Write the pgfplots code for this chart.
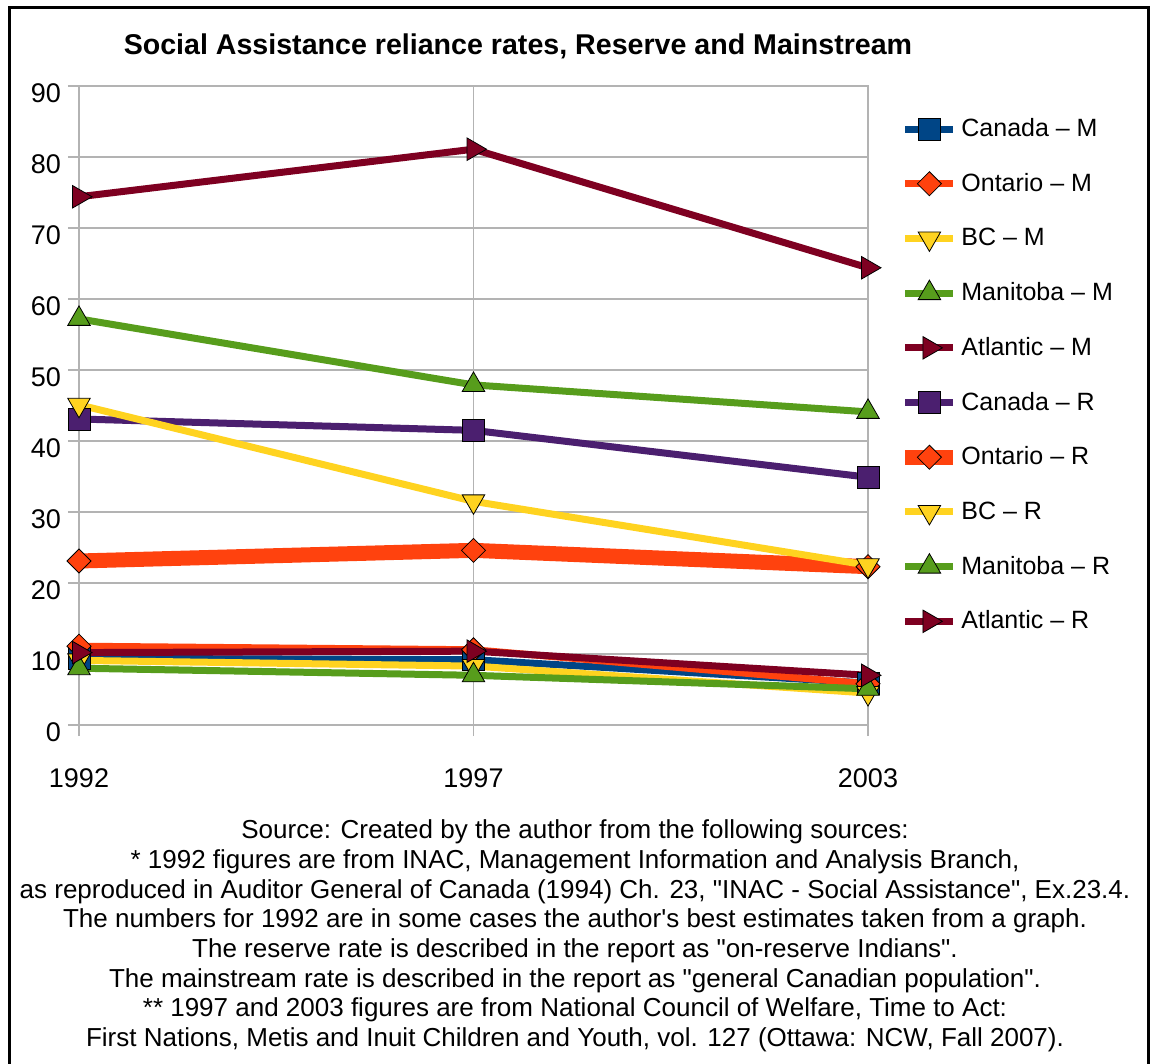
\documentclass[border=0pt]{standalone}
\usepackage{fontspec}
\setmainfont{Liberation Sans}[Ligatures=TeXReset]
\usepackage{pgfplots}
\pgfplotsset{compat=1.18}

\definecolor{cblue}{HTML}{004586}
\definecolor{corange}{HTML}{FF420E}
\definecolor{cyellow}{HTML}{FFD320}
\definecolor{cgreen}{HTML}{579D1C}
\definecolor{cdred}{HTML}{7E0021}
\definecolor{cpurple}{HTML}{4B1F6F}
\definecolor{cgrid}{HTML}{B3B3B3}

\pgfplotsset{
  sq/.style={mark=square*, mark size=5.5pt},
  dia/.style={mark=square*, mark size=4.25pt, every mark/.append style={rotate=45}},
  tdown/.style={mark=triangle*, mark size=6.5pt, every mark/.append style={rotate=180}},
  tup/.style={mark=triangle*, mark size=6.5pt},
  tright/.style={mark=triangle*, mark size=6.5pt, every mark/.append style={rotate=-90}},
  ser/.style={color=#1, line width=3.5pt,
    every mark/.append style={fill=#1, draw=black, line width=0.4pt, solid}},
}

\begin{document}
\begin{tikzpicture}
% page area in pixel-like units (1 unit = 0.5pt, y downwards)
\begin{scope}[x=0.5pt, y=-0.5pt]
  \path[use as bounding box] (0,0) rectangle (1150,1064);
  \draw[line width=1.5pt] (9,1070) -- (9,8) -- (1148,8) -- (1148,1070);
  \node[font=\fontsize{14.3}{16}\selectfont\bfseries] at (518,46)
    {Social Assistance reliance rates, Reserve and Mainstream};
  \node[align=center, font=\fontsize{13}{14.85}\selectfont] at (575,936)
    {Source: Created by the author from the following sources:\\
     * 1992 figures are from INAC, Management Information and Analysis Branch,\\
     as reproduced in Auditor General of Canada (1994) Ch. 23, "INAC - Social Assistance", Ex.23.4.\\
     The numbers for 1992 are in some cases the author's best estimates taken from a graph.\\
     The reserve rate is described in the report as "on-reserve Indians".\\
     The mainstream rate is described in the report as "general Canadian population".\\
     ** 1997 and 2003 figures are from National Council of Welfare, Time to Act:\\
     First Nations, Metis and Inuit Children and Youth, vol. 127 (Ottawa: NCW, Fall 2007).};
\end{scope}

\begin{axis}[
  at={(39.5pt,-362.5pt)}, anchor=south west,
  scale only axis, width=394.5pt, height=319.5pt,
  xmin=0, xmax=2, ymin=0, ymax=90,
  xtick={0,1,2}, xticklabels={1992,1997,2003},
  ytick={0,10,...,90},
  xtick pos=bottom, ytick pos=left,
  tick align=outside, major tick length=5.5pt,
  grid=major,
  major grid style={cgrid, line width=0.6pt},
  axis line style={cgrid, line width=0.6pt},
  tick style={cgrid, line width=0.6pt},
  clip=false,
  /pgf/number format/assume math mode=true,
  ticklabel style={font=\fontsize{13.5}{16}\selectfont},
  xticklabel style={yshift=-13pt},
  yticklabel style={yshift=-3.75pt},
  legend cell align=left,
  legend style={at={(1.0469,0.9607)}, anchor=north west, draw=none, fill=none,
    inner sep=0pt, row sep=9.85pt,
    font=\fontsize{12.5}{14}\selectfont,
    nodes={inner sep=0pt},
    /tikz/every odd column/.append style={column sep=4pt}},
  % fixed-size legend sample so every row has the same height
  legend image code/.code={
    \draw[overlay, mark repeat=2, mark phase=2] plot coordinates {(0pt,0pt) (12pt,0pt) (24pt,0pt)};
    \path[line width=0pt] (0pt,-8.75pt) (24pt,8.75pt);
  },
]
% mainstream rates
\addplot[ser=cblue, sq] coordinates {(0,9.4) (1,9.2) (2,5.9)};
\addlegendentry{Canada – M}
\addplot[ser=corange, dia] coordinates {(0,11.1) (1,10.6) (2,5.8)};
\addlegendentry{Ontario – M}
\addplot[ser=cyellow, tdown] coordinates {(0,9.1) (1,8.3) (2,4.5)};
\addlegendentry{BC – M}
\addplot[ser=cgreen, tup] coordinates {(0,8.0) (1,7.0) (2,5.1)};
\addlegendentry{Manitoba – M}
\addplot[ser=cdred, tright] coordinates {(0,10.2) (1,10.4) (2,7.0)};
\addlegendentry{Atlantic – M}
% reserve rates
\addplot[ser=cpurple, sq] coordinates {(0,43.1) (1,41.5) (2,34.9)};
\addlegendentry{Canada – R}
\addplot[ser=corange, dia, line width=7.5pt] coordinates {(0,23.1) (1,24.6) (2,22.3)};
\addlegendentry{Ontario – R}
\addplot[ser=cyellow, tdown] coordinates {(0,45.1) (1,31.5) (2,22.5)};
\addlegendentry{BC – R}
\addplot[ser=cgreen, tup] coordinates {(0,57.2) (1,47.9) (2,44.1)};
\addlegendentry{Manitoba – R}
\addplot[ser=cdred, tright] coordinates {(0,74.4) (1,81.1) (2,64.4)};
\addlegendentry{Atlantic – R}
\end{axis}
\end{tikzpicture}
\end{document}
